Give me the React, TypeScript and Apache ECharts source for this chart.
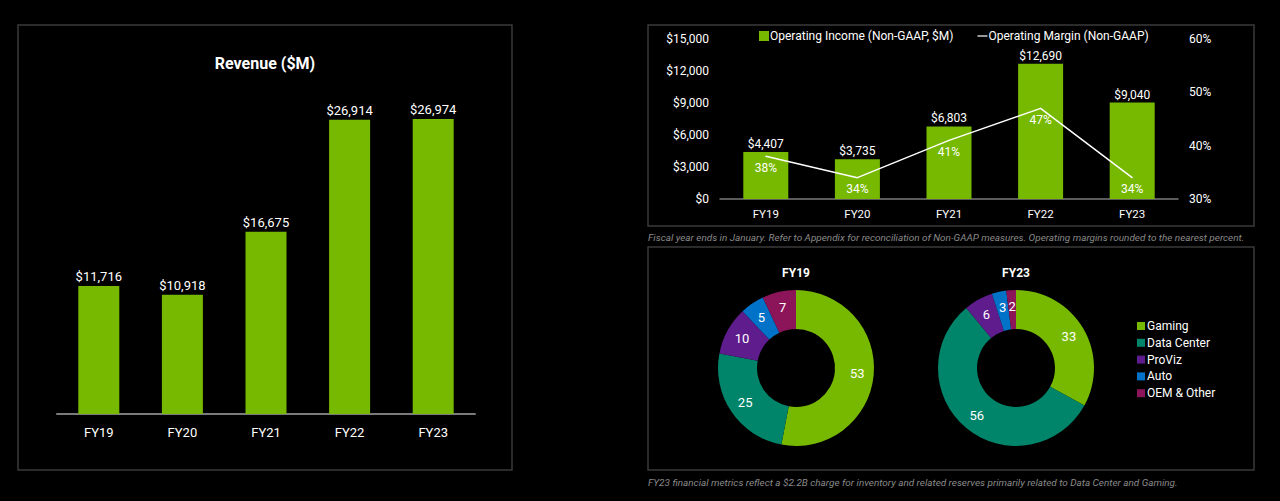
import React, { useEffect, useRef } from "react";
import * as echarts from "echarts";

const years = ["FY19", "FY20", "FY21", "FY22", "FY23"];
const revenue = [11716, 10918, 16675, 26914, 26974];
const opIncome = [4407, 3735, 6803, 12690, 9040];
const opMargin = [38, 34, 41, 47, 34];
const segments = ["Gaming", "Data Center", "ProViz", "Auto", "OEM & Other"];
const fy19Mix = [53, 25, 10, 5, 7];
const fy23Mix = [33, 56, 6, 3, 2];
const segmentColors = ["#76b900", "#00856a", "#5e1c8c", "#0073c8", "#8c1559"];
const incomeTicks = { min: 0, max: 15000, interval: 3000 };
const marginTicks = { min: 30, max: 60, interval: 10 };
const revenueMax = 30000;

const FONT = "Roboto, 'Noto Sans', sans-serif";
const GREEN = "#76b900";
const money = (v: number) => "$" + Number(v).toLocaleString("en-US");

export default function App() {
  const ref = useRef<HTMLDivElement>(null);
  useEffect(() => {
    if (!ref.current) return;
    const chart = echarts.init(ref.current, undefined, { renderer: "svg" });
    const pieData = (vals: number[]) =>
      vals.map((v, i) => ({ name: segments[i], value: v, itemStyle: { color: segmentColors[i] } }));
    const border = (x: number, y: number, w: number, h: number) => ({
      type: "rect",
      shape: { x, y, width: w, height: h },
      style: { fill: "none", stroke: "#3a3a3a", lineWidth: 1.5 },
      silent: true,
    });
    chart.setOption({
      animation: false,
      backgroundColor: "#000",
      textStyle: { fontFamily: FONT },
      graphic: [
        border(18, 25, 494, 445),
        border(648, 25, 606, 201),
        border(648, 247, 606, 223),
        {
          type: "text", x: 265, y: 63,
          style: { text: "Revenue ($M)", fill: "#fff", font: `bold 16px ${FONT}`, align: "center", verticalAlign: "middle" },
        },
        {
          type: "text", x: 796, y: 273,
          style: { text: "FY19", fill: "#fff", font: `bold 12px ${FONT}`, align: "center", verticalAlign: "middle" },
        },
        {
          type: "text", x: 1016, y: 273,
          style: { text: "FY23", fill: "#fff", font: `bold 12px ${FONT}`, align: "center", verticalAlign: "middle" },
        },
        {
          type: "text", x: 648, y: 237,
          style: {
            text: "Fiscal year ends in January. Refer to Appendix for reconciliation of Non-GAAP measures. Operating margins rounded to the nearest percent.",
            fill: "#8a8a8a", font: `italic 9.95px ${FONT}`, align: "left", verticalAlign: "middle",
          },
        },
        {
          type: "text", x: 648, y: 482,
          style: {
            text: "FY23 financial metrics reflect a $2.2B charge for inventory and related reserves primarily related to Data Center and Gaming.",
            fill: "#8a8a8a", font: `italic 9.95px ${FONT}`, align: "left", verticalAlign: "middle",
          },
        },
      ],
      legend: [
        {
          left: 754, top: 25, itemGap: 24, itemWidth: 10, itemHeight: 10,
          textStyle: { color: "#fff", fontSize: 12, fontFamily: FONT, padding: [0, 0, 0, -4] },
          data: [
            { name: "Operating Income (Non-GAAP, $M)", icon: "rect" },
            { name: "Operating Margin (Non-GAAP)", icon: "path://M0,0 L10,0 L10,1.2 L0,1.2 Z" },
          ],
        },
        {
          left: 1132, top: 315, orient: "vertical", itemGap: 4.8, itemWidth: 8, itemHeight: 8,
          textStyle: { color: "#fff", fontSize: 12, fontFamily: FONT, padding: [0, 0, 0, -3] },
          data: segments.map((s) => ({ name: s, icon: "rect" })),
        },
      ],
      grid: [
        { left: 57, top: 86, width: 418, height: 328 },
        { left: 720, top: 39, width: 458, height: 160 },
      ],
      xAxis: [
        {
          type: "category", gridIndex: 0, data: years,
          axisLine: { lineStyle: { color: "#7a7a7a", width: 2 } },
          axisTick: { show: false },
          axisLabel: { color: "#fff", fontSize: 13, margin: 12 },
        },
        {
          type: "category", gridIndex: 1, data: years,
          axisLine: { lineStyle: { color: "#7a7a7a", width: 1.5 } },
          axisTick: { show: false },
          axisLabel: { color: "#fff", fontSize: 11.5, margin: 9 },
        },
      ],
      yAxis: [
        { type: "value", gridIndex: 0, min: 0, max: revenueMax, show: false },
        {
          type: "value", gridIndex: 1, position: "left", ...incomeTicks,
          axisLine: { show: false }, axisTick: { show: false }, splitLine: { show: false },
          axisLabel: { color: "#fff", fontSize: 12, margin: 11, formatter: (v: number) => money(v) },
        },
        {
          type: "value", gridIndex: 1, position: "right", ...marginTicks,
          axisLine: { show: false }, axisTick: { show: false }, splitLine: { show: false },
          axisLabel: { color: "#fff", fontSize: 12, margin: 11, formatter: "{value}%" },
        },
      ],
      series: [
        {
          name: "Revenue", type: "bar", xAxisIndex: 0, yAxisIndex: 0, data: revenue, barWidth: 41,
          itemStyle: { color: GREEN },
          label: { show: true, position: "top", distance: 3, color: "#fff", fontSize: 13, formatter: (p: any) => money(p.value) },
        },
        {
          name: "Operating Income (Non-GAAP, $M)", type: "bar", xAxisIndex: 1, yAxisIndex: 1, data: opIncome, barWidth: 45,
          itemStyle: { color: GREEN },
          label: { show: true, position: "top", distance: 2, color: "#fff", fontSize: 12, formatter: (p: any) => money(p.value) },
        },
        {
          name: "Operating Margin (Non-GAAP)", type: "line", xAxisIndex: 1, yAxisIndex: 2, data: opMargin,
          symbol: "circle", symbolSize: 1, itemStyle: { color: "#fff" },
          lineStyle: { color: "#fff", width: 1.5 },
          label: { show: true, position: "bottom", distance: 5, color: "#fff", fontSize: 12, formatter: "{c}%" },
        },
        {
          name: "FY19 Mix", type: "pie", center: [796, 368], radius: [39, 78], startAngle: 90, clockwise: true,
          avoidLabelOverlap: false, data: pieData(fy19Mix),
          label: { show: true, position: "inside", color: "#fff", fontSize: 13, formatter: "{c}" },
          labelLine: { show: false }, emphasis: { disabled: true },
        },
        {
          name: "FY23 Mix", type: "pie", center: [1016, 368], radius: [39, 78], startAngle: 90, clockwise: true,
          avoidLabelOverlap: false, data: pieData(fy23Mix),
          label: { show: true, position: "inside", color: "#fff", fontSize: 13, formatter: "{c}" },
          labelLine: { show: false }, emphasis: { disabled: true },
        },
      ],
    });
    return () => chart.dispose();
  }, []);
  return (
    <div style={{ position: "absolute", left: 0, top: 0, width: 1280, height: 501, background: "#000" }}>
      <div ref={ref} style={{ width: 1280, height: 501 }} />
    </div>
  );
}
